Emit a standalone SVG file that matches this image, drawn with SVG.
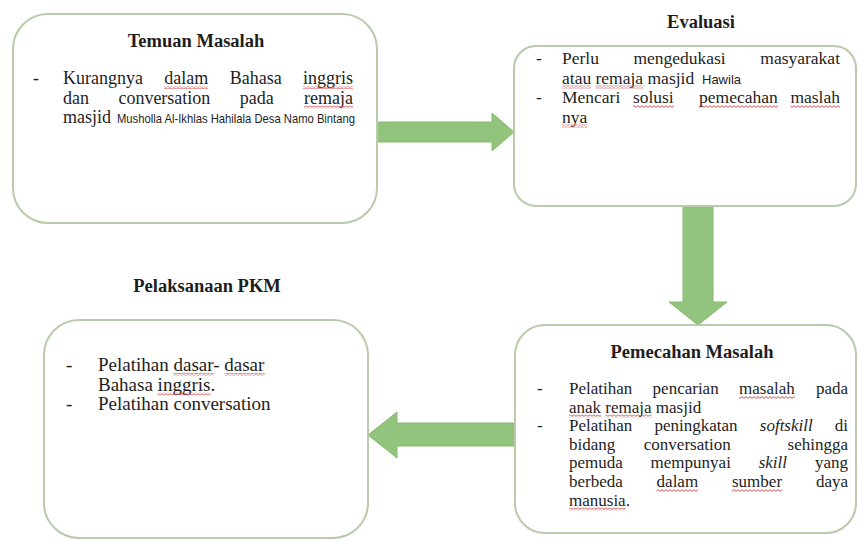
<svg xmlns="http://www.w3.org/2000/svg" width="858" height="542" viewBox="0 0 858 542">
<style>
.box{fill:#ffffff;stroke:#b9cbaa;stroke-width:2}
.arr{fill:#92c47e;stroke:#86b972;stroke-width:1}
text{font-family:"Liberation Serif","Times New Roman",serif;font-size:18px;fill:#1e1e1e}
.b1 text{font-size:18px}
.b2 text{font-size:17.5px}
.b3 text{font-size:19px}
.b4 text{font-size:17px}
g text.t{font-weight:bold;text-anchor:middle;font-size:18.5px}
.m{text-anchor:middle}
.e{text-anchor:end}
.i{font-style:italic}
g text.s{font-family:"Liberation Sans",Arial,sans-serif;font-size:13px}
.sq{fill:url(#wave)}
</style>
<defs>
<pattern id="wave" width="4" height="3" patternUnits="userSpaceOnUse">
<path d="M0,2.4 L2,0.6 L4,2.4" fill="none" stroke="#d0393b" stroke-width="0.9"/>
</pattern>
</defs>
<rect width="858" height="542" fill="#ffffff"/>

<g id="connectors">
<polygon class="arr" points="377,122 492,122 492,113 514,132 492,151 492,142 377,142"/>
<polygon class="arr" points="683,206 713,206 713,302 727,302 698,325 669,302 683,302"/>
<polygon class="arr" points="515,423 397,423 397,412 368,435 397,458 397,446 515,446"/>
</g>

<g id="temuan-masalah" class="b1">
<rect class="box" x="13" y="14" width="364" height="209" rx="35"/>
<text class="t" x="196" y="47">Temuan Masalah</text>
<text x="33" y="84">-</text>
<text x="63" y="84">Kurangnya</text>
<text x="164.3" y="84">dalam</text>
<text x="229.7" y="84">Bahasa</text>
<text class="e" x="353" y="84">inggris</text>
<text x="63" y="103.5">dan</text>
<text x="118.4" y="103.5">conversation</text>
<text x="239.8" y="103.5">pada</text>
<text class="e" x="353" y="103.5">remaja</text>
<text x="63" y="123">masjid</text>
<text class="s" x="117" y="123" textLength="238" lengthAdjust="spacingAndGlyphs">Musholla Al-Ikhlas Hahilala Desa Namo Bintang</text>
<rect class="sq" x="164" y="86" width="44" height="3"/>
<rect class="sq" x="303" y="86" width="50" height="3"/>
<rect class="sq" x="304" y="105.5" width="49" height="3"/>
</g>

<g id="evaluasi" class="b2">
<text class="t" x="701" y="28">Evaluasi</text>
<rect class="box" x="514" y="46" width="342" height="160" rx="22"/>
<text x="536" y="64">-</text>
<text x="562" y="64">Perlu</text>
<text x="633.4" y="64">mengedukasi</text>
<text class="e" x="840" y="64">masyarakat</text>
<text x="562" y="83.5">atau remaja masjid</text>
<text class="s" x="702" y="83.5">Hawila</text>
<text x="536" y="103">-</text>
<text x="562" y="103">Mencari</text>
<text x="632.9" y="103">solusi</text>
<text x="699.1" y="103">pemecahan</text>
<text class="e" x="840" y="103">maslah</text>
<text x="562" y="122.5">nya</text>
<rect class="sq" x="562" y="85.5" width="29" height="3"/>
<rect class="sq" x="595.5" y="85.5" width="48" height="3"/>
<rect class="sq" x="633" y="105" width="41" height="3"/>
<rect class="sq" x="699" y="105" width="79" height="3"/>
<rect class="sq" x="790.4" y="105" width="49.6" height="3"/>
<rect class="sq" x="562" y="124.5" width="25" height="3"/>
</g>

<g id="pelaksanaan-pkm" class="b3">
<text class="t" x="207" y="292">Pelaksanaan PKM</text>
<rect class="box" x="44" y="320" width="324" height="218" rx="35"/>
<text x="66" y="371">-</text>
<text x="98" y="371">Pelatihan dasar- dasar</text>
<text x="98" y="390.5">Bahasa inggris.</text>
<text x="66" y="410">-</text>
<text x="98" y="410">Pelatihan conversation</text>
<rect class="sq" x="173.5" y="373" width="40" height="3"/>
<rect class="sq" x="224.7" y="373" width="40" height="3"/>
<rect class="sq" x="157.6" y="392.5" width="52.8" height="3"/>
</g>

<g id="pemecahan-masalah" class="b4">
<rect class="box" x="515" y="325" width="341" height="208" rx="30"/>
<text class="t" x="692" y="358">Pemecahan Masalah</text>
<text x="537" y="394">-</text>
<text x="569" y="394">Pelatihan</text>
<text x="652.6" y="394">pencarian</text>
<text x="739" y="394">masalah</text>
<text class="e" x="848" y="394">pada</text>
<text x="569" y="412.5">anak remaja masjid</text>
<text x="537" y="431">-</text>
<text x="569" y="431">Pelatihan</text>
<text x="654.5" y="431">peningkatan</text>
<text class="i" x="759.8" y="431">softskill</text>
<text class="e" x="848" y="431">di</text>
<text x="569" y="449.5">bidang</text>
<text x="643.8" y="449.5">conversation</text>
<text class="e" x="848" y="449.5">sehingga</text>
<text x="569" y="468">pemuda</text>
<text x="650.6" y="468">mempunyai</text>
<text class="i" x="758.7" y="468">skill</text>
<text class="e" x="848" y="468">yang</text>
<text x="569" y="487">berbeda</text>
<text x="656.6" y="487">dalam</text>
<text x="732" y="487">sumber</text>
<text class="e" x="848" y="487">daya</text>
<text x="569" y="505.5">manusia.</text>
<rect class="sq" x="739" y="396" width="55.7" height="3"/>
<rect class="sq" x="569" y="414.5" width="32" height="3"/>
<rect class="sq" x="605.3" y="414.5" width="46.3" height="3"/>
<rect class="sq" x="656.6" y="489" width="41.6" height="3"/>
<rect class="sq" x="732" y="489" width="50" height="3"/>
<rect class="sq" x="569" y="507.5" width="56.7" height="3"/>
</g>
</svg>
